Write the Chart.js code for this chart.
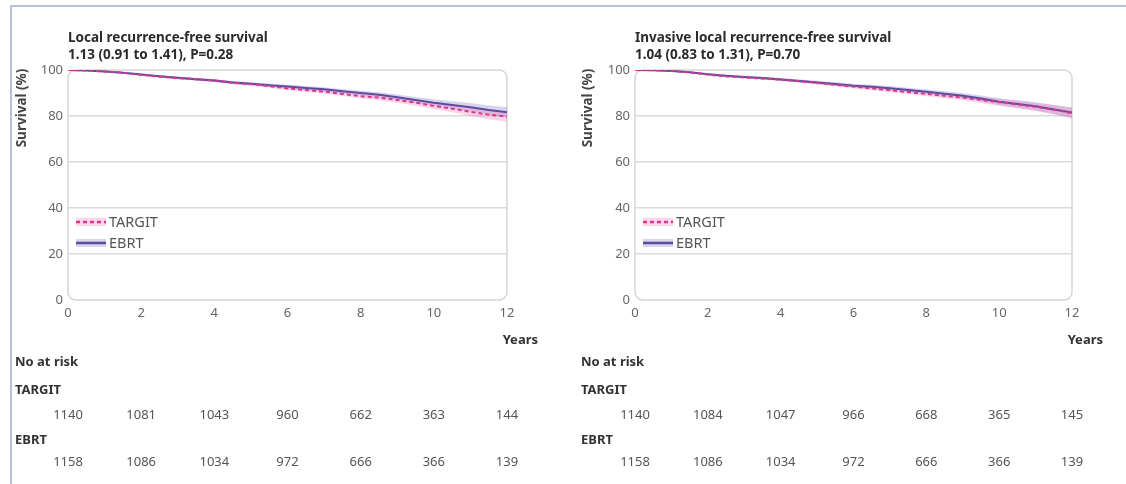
<!DOCTYPE html>
<html lang="en">
<head>
    <meta charset="UTF-8">
    <title>TARGIT vs EBRT survival</title>
    <script src="https://cdn.jsdelivr.net/npm/chart.js"></script>
    <style>
        body { margin: 0; background: #fff; font-family: "Noto Sans", Arial, sans-serif; }
        .frame {
            position: absolute; left: 10px; top: 5px; width: 1120px; height: 490px;
            border-top: 2px solid #b4c2de; border-left: 2px solid #b4c2de;
        }
        canvas { position: absolute; top: 0; }
        #left { left: 0; }
        #right { left: 563px; }
    </style>
</head>
<body>
    <div class="frame"></div>
    <canvas id="left" width="563" height="484"></canvas>
    <canvas id="right" width="563" height="484"></canvas>

    <script>
        // time points (years)
        let years = [0, 0.5, 1, 1.5, 2, 2.5, 3, 3.5, 4, 4.5, 5, 5.5, 6, 6.5, 7, 7.5, 8, 8.5, 9, 9.5, 10, 10.5, 11, 11.5, 12];
        let riskYears = [0, 2, 4, 6, 8, 10, 12];

        // Local recurrence-free survival (%)
        let localTargit = [100, 99.8, 99.4, 98.8, 97.9, 97.1, 96.5, 96.0, 95.4, 94.5, 93.9, 93.0, 92.0, 91.3, 90.6, 89.6, 88.6, 88.0, 87.0, 85.8, 84.4, 83.2, 81.8, 80.6, 79.8];
        let localEbrt   = [100, 99.8, 99.4, 98.8, 98.0, 97.3, 96.6, 96.0, 95.4, 94.6, 94.0, 93.4, 92.8, 92.2, 91.6, 90.8, 90.0, 89.2, 88.2, 87.0, 85.8, 84.8, 83.8, 82.6, 81.6];
        let localCi     = [0, 0.1, 0.2, 0.3, 0.4, 0.45, 0.5, 0.55, 0.6, 0.65, 0.7, 0.75, 0.8, 0.85, 0.9, 0.95, 1.0, 1.1, 1.2, 1.3, 1.5, 1.6, 1.8, 2.0, 2.3];

        // Invasive local recurrence-free survival (%)
        let invTargit = [100, 99.9, 99.6, 99.0, 98.0, 97.2, 96.8, 96.3, 95.8, 95.2, 94.4, 93.6, 92.8, 92.0, 91.2, 90.4, 89.6, 88.8, 88.0, 87.0, 86.0, 85.0, 84.0, 82.8, 81.2];
        let invEbrt   = [100, 99.9, 99.6, 99.0, 98.2, 97.5, 97.0, 96.5, 95.9, 95.2, 94.6, 93.9, 93.2, 92.7, 92.1, 91.3, 90.5, 89.7, 88.8, 87.6, 86.2, 85.2, 84.2, 82.8, 81.5];
        let invCi     = [0, 0.1, 0.2, 0.3, 0.4, 0.45, 0.5, 0.55, 0.6, 0.65, 0.7, 0.75, 0.8, 0.85, 0.9, 0.95, 1.0, 1.1, 1.2, 1.3, 1.5, 1.6, 1.8, 2.0, 2.3];

        // numbers at risk
        let localRiskTargit = [1140, 1081, 1043, 960, 662, 363, 144];
        let localRiskEbrt   = [1158, 1086, 1034, 972, 666, 366, 139];
        let invRiskTargit   = [1140, 1084, 1047, 966, 668, 365, 145];
        let invRiskEbrt     = [1158, 1086, 1034, 972, 666, 366, 139];

        const TARGIT_LINE = '#d8378c', TARGIT_BAND = 'rgba(238,120,185,0.32)';
        const EBRT_LINE = '#5b4c9e', EBRT_BAND = 'rgba(135,118,205,0.32)';
        const FONT = '"Noto Sans", Arial, sans-serif';

        function pts(vals, off, sign) {
            return years.map((t, i) => ({ x: t, y: off ? vals[i] + sign * off[i] : vals[i] }));
        }

        // titles, legend, frame, y title, Years label and number-at-risk table
        const extras = {
            id: 'extras',
            beforeDatasetsDraw(chart, args, o) {
                let a = chart.chartArea, c = chart.ctx;
                c.save();
                c.strokeStyle = '#d6d6d6';
                c.lineWidth = 1.5;
                c.beginPath();
                c.roundRect(a.left, a.top, a.right - a.left, a.bottom - a.top, 8);
                c.stroke();
                c.restore();
            },
            afterDraw(chart, args, o) {
                let a = chart.chartArea, c = chart.ctx, xs = chart.scales.x;
                c.save();
                c.textBaseline = 'middle';
                c.fillStyle = '#2b2b2b';
                c.font = 'bold 13.5px ' + FONT;
                c.textAlign = 'left';
                c.fillText(o.title[0], a.left, 38);
                c.fillText(o.title[1], a.left, 55);

                // y axis title
                c.save();
                c.translate(o.yTitleX, 108);
                c.rotate(-Math.PI / 2);
                c.textAlign = 'center';
                c.font = 'bold 13.5px ' + FONT;
                c.fillStyle = '#444';
                c.fillText('Survival (%)', 0, 0);
                c.restore();

                // legend
                let lx = a.left + 8;
                [['TARGIT', TARGIT_LINE, TARGIT_BAND, [4, 3], 222], ['EBRT', EBRT_LINE, EBRT_BAND, [], 243]].forEach(l => {
                    c.lineWidth = 8; c.strokeStyle = l[2]; c.setLineDash([]);
                    c.beginPath(); c.moveTo(lx, l[4]); c.lineTo(lx + 30, l[4]); c.stroke();
                    c.lineWidth = 2.5; c.strokeStyle = l[1]; c.setLineDash(l[3]);
                    c.beginPath(); c.moveTo(lx, l[4]); c.lineTo(lx + 30, l[4]); c.stroke();
                    c.setLineDash([]);
                    c.font = '14.5px ' + FONT; c.fillStyle = '#555';
                    c.fillText(l[0], lx + 33, l[4] + 1);
                });

                // Years
                c.textAlign = 'right';
                c.font = 'bold 13px ' + FONT;
                c.fillStyle = '#333';
                c.fillText('Years', a.right + 31, 340);

                // number at risk
                c.textAlign = 'left';
                c.fillText('No at risk', o.tableX, 362);
                c.fillText('TARGIT', o.tableX, 390);
                c.fillText('EBRT', o.tableX, 440);
                c.textAlign = 'center';
                c.font = '13px ' + FONT;
                c.fillStyle = '#555';
                riskYears.forEach((t, i) => {
                    let px = xs.getPixelForValue(t);
                    c.fillText(o.riskT[i], px, 415);
                    c.fillText(o.riskE[i], px, 462);
                });
                c.restore();
            }
        };

        function makeChart(id, targit, ebrt, ci, p) {
            return new Chart(document.getElementById(id), {
                type: 'line',
                data: {
                    datasets: [
                        { data: pts(targit, ci, 1), borderWidth: 0, pointRadius: 0, fill: '+1', backgroundColor: TARGIT_BAND, order: 3 },
                        { data: pts(targit, ci, -1), borderWidth: 0, pointRadius: 0, fill: false, order: 3 },
                        { data: pts(ebrt, ci, 1), borderWidth: 0, pointRadius: 0, fill: '+1', backgroundColor: EBRT_BAND, order: 3 },
                        { data: pts(ebrt, ci, -1), borderWidth: 0, pointRadius: 0, fill: false, order: 3 },
                        { label: 'EBRT', data: pts(ebrt), borderColor: EBRT_LINE, borderWidth: 2, pointRadius: 0, fill: false, order: 2 },
                        { label: 'TARGIT', data: pts(targit), borderColor: TARGIT_LINE, borderWidth: 2, borderDash: [4, 3], pointRadius: 0, fill: false, order: 1 }
                    ]
                },
                options: {
                    responsive: false,
                    animation: false,
                    layout: { padding: { left: p.padLeft, right: p.padRight, top: 70, bottom: 134 } },
                    plugins: {
                        legend: { display: false },
                        tooltip: { enabled: false },
                        extras: p
                    },
                    scales: {
                        x: {
                            type: 'linear', min: 0, max: 12,
                            grid: { display: false },
                            border: { display: false },
                            ticks: { stepSize: 2, padding: -3, color: '#666', font: { size: 13, family: FONT } },
                            afterFit: s => { s.height = 50; }
                        },
                        y: {
                            min: 0, max: 100,
                            grid: {
                                color: ctx => (ctx.tick.value === 0 || ctx.tick.value === 100) ? 'rgba(0,0,0,0)' : '#d9d9d9',
                                lineWidth: 1.5,
                                drawTicks: false
                            },
                            border: { display: false },
                            ticks: { stepSize: 20, padding: 5, color: '#666', font: { size: 13, family: FONT } },
                            afterFit: s => { s.width = p.axisW; }
                        }
                    }
                },
                plugins: [extras]
            });
        }

        makeChart('left', localTargit, localEbrt, localCi, {
            padLeft: 14, padRight: 56, axisW: 54, yTitleX: 22, tableX: 15,
            title: ['Local recurrence-free survival', '1.13 (0.91 to 1.41), P=0.28'],
            riskT: localRiskTargit, riskE: localRiskEbrt
        });
        makeChart('right', invTargit, invEbrt, invCi, {
            padLeft: 16, padRight: 54, axisW: 56, yTitleX: 25, tableX: 18,
            title: ['Invasive local recurrence-free survival', '1.04 (0.83 to 1.31), P=0.70'],
            riskT: invRiskTargit, riskE: invRiskEbrt
        });
    </script>
</body>
</html>
